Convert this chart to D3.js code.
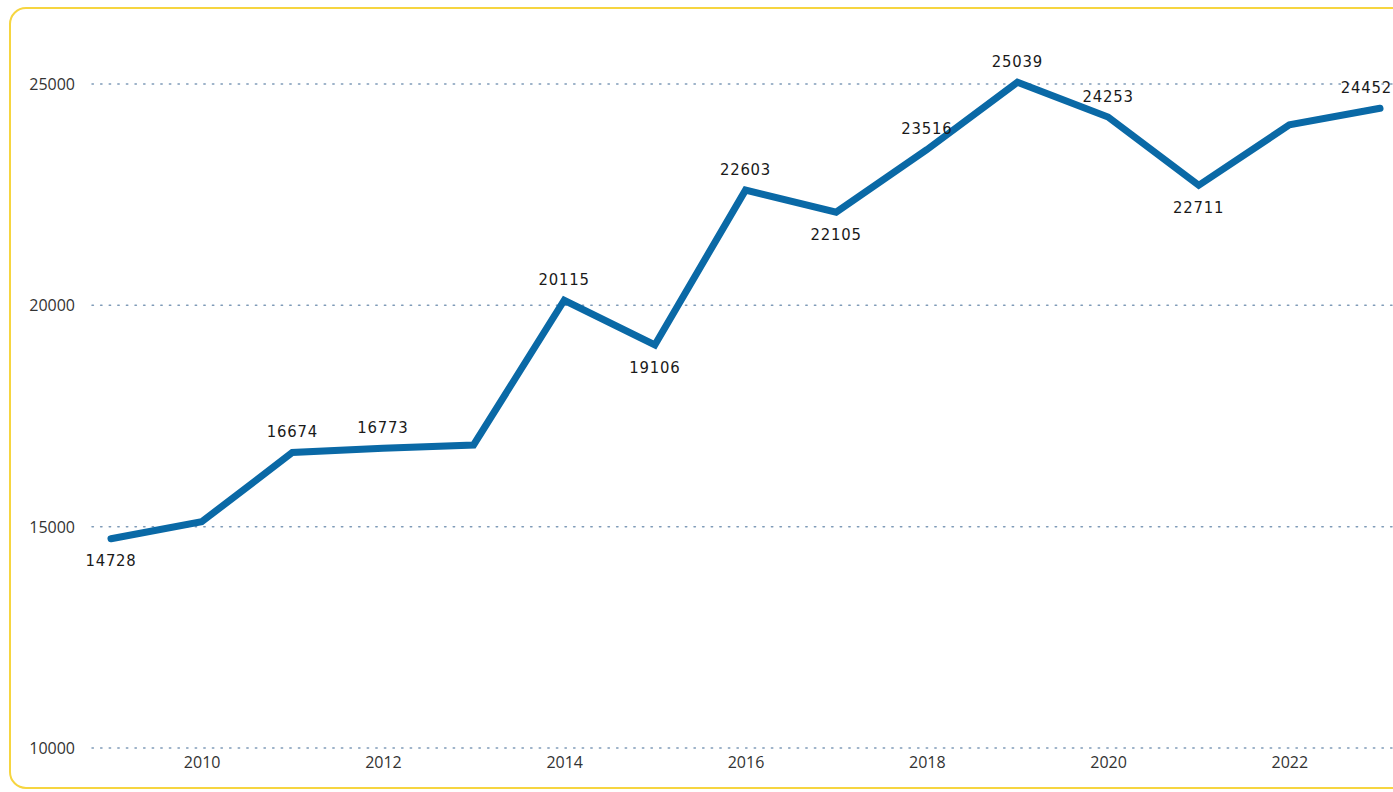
<!DOCTYPE html>
<html><head><meta charset="utf-8">
<script src="https://cdn.jsdelivr.net/npm/d3@7"></script>
<style>
html,body{margin:0;padding:0;background:#fff;overflow:hidden;}
</style></head>
<body>
<svg id="chart" width="1393" height="792"></svg>
<script>
const years = [2009,2010,2011,2012,2013,2014,2015,2016,2017,2018,2019,2020,2021,2022,2023];
const values = [14728,15110,16674,16773,16846,20115,19106,22603,22105,23516,25039,24253,22711,24076,24452];
const labeledYears = [2009,2011,2012,2014,2015,2016,2017,2018,2019,2020,2021,2023];
const yTicks = [10000,15000,20000,25000];
const xTicks = [2010,2012,2014,2016,2018,2020,2022];

const W = 1393;
const svg = d3.select("#chart");
// card
svg.append("rect").attr("x",10).attr("y",8).attr("width",1420).attr("height",780)
  .attr("rx",16).attr("fill","#fff").attr("stroke","#f6d540").attr("stroke-width",2);

const x = d3.scaleLinear().domain([2009,2023]).range([111,1380]);
const y = d3.scaleLinear().domain([10000,25000]).range([748,84]);

// gridlines
svg.append("g").selectAll("line").data(yTicks).join("line")
  .attr("x1",92).attr("x2",W).attr("y1",d=>y(d)).attr("y2",d=>y(d))
  .attr("stroke","#7f9bb8").attr("stroke-width",1.5).attr("stroke-dasharray","1.4,7.2")
  .attr("stroke-linecap","round");

// y axis labels
const yAxis = d3.axisLeft(y).tickValues(yTicks).tickSize(0).tickPadding(0).tickFormat(d3.format("d"));
const yg = svg.append("g").attr("transform","translate(75,0)").call(yAxis);
yg.select(".domain").remove();
yg.selectAll("text").attr("font-family","'Open Sans', sans-serif").attr("font-size",16).attr("fill","#333").attr("dy","0.35em");

// x axis labels
const xAxis = d3.axisBottom(x).tickValues(xTicks).tickSize(0).tickPadding(0).tickFormat(d3.format("d"));
const xg = svg.append("g").attr("transform","translate(0,757)").call(xAxis);
xg.select(".domain").remove();
xg.selectAll("text").attr("font-family","'Open Sans', sans-serif").attr("font-size",16).attr("fill","#333").attr("dy","0.71em");

const data = years.map((yr,i)=>({yr, v:values[i]}));
const line = d3.line().x(d=>x(d.yr)).y(d=>y(d.v));
svg.append("path").datum(data).attr("d",line).attr("fill","none")
  .attr("stroke","#0a69a6").attr("stroke-width",7).attr("stroke-linejoin","miter").attr("stroke-linecap","round");

// data labels: below if local minimum, else above
const lab = data.map((d,i)=>{
  const prev = i>0 ? data[i-1].v : Infinity;
  const next = i<data.length-1 ? data[i+1].v : Infinity;
  return {...d, below: d.v<prev && d.v<next};
}).filter(d=>labeledYears.includes(d.yr));
const txt = svg.append("g").selectAll("text").data(lab).join("text")
  .attr("y",d=>y(d.v)+(d.below?22:-21))
  .attr("dy","0.35em")
  .attr("font-family","'DejaVu Sans Condensed','DejaVu Sans',sans-serif").attr("font-stretch","condensed")
  .attr("font-size",16.5).attr("fill","#1a1a1a").attr("letter-spacing","0.8")
  .text(d=>d.v);
// keep labels inside the visible area
txt.each(function(d){
  const w = this.getComputedTextLength();
  let left = x(d.yr) - w/2;
  if (left + w > W - 1) left = W - 1 - w;
  d3.select(this).attr("x", left);
});
</script>
</body></html>
